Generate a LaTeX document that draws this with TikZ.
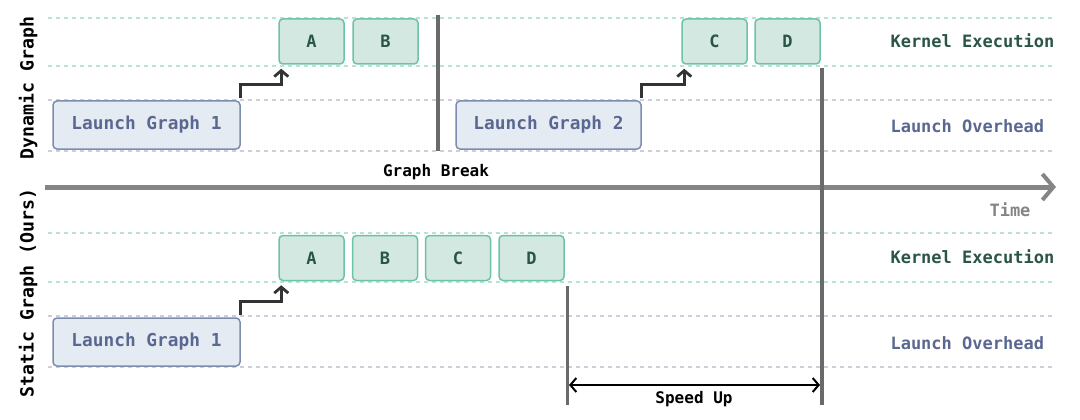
\documentclass[tikz,border=0pt]{standalone}
\usepackage{fontspec}
\setmonofont{DejaVu Sans Mono}
\usetikzlibrary{arrows.meta}
\definecolor{kfill}{HTML}{D3E8E1}
\definecolor{kdraw}{HTML}{6DC3A5}
\definecolor{ktext}{HTML}{2A5546}
\definecolor{lfill}{HTML}{E4EBF3}
\definecolor{ldraw}{HTML}{7D8DAE}
\definecolor{ltext}{HTML}{5A6891}
\definecolor{gdash}{HTML}{B5E3D8}
\definecolor{bdash}{HTML}{CDCDDC}
\definecolor{axisc}{HTML}{858585}
\definecolor{vlinec}{HTML}{6A6A6A}
\definecolor{kickc}{HTML}{333333}
\begin{document}
\begin{tikzpicture}[x=1pt,y=-1pt,
  kbox/.style={draw=kdraw, fill=kfill, line width=1.5pt, rounded corners=4pt,
    minimum width=65pt, minimum height=45pt, inner sep=0pt, text=ktext,
    font=\ttfamily\bfseries\fontsize{17}{20}\selectfont},
  lbox/.style={draw=ldraw, fill=lfill, line width=1.5pt, rounded corners=4pt,
    minimum height=48pt, inner sep=0pt, text=ltext,
    font=\ttfamily\bfseries\fontsize{17.8}{21}\selectfont},
  gline/.style={draw=gdash, line width=1.5pt, dash pattern=on 4pt off 4pt},
  bline/.style={draw=bdash, line width=1.5pt, dash pattern=on 4pt off 4pt},
  kick/.style={draw=kickc, line width=2.8pt,
    -{Straight Barb[length=6pt,width=14pt,line width=2.8pt]}},
  vbar/.style={draw=vlinec, line width=4pt},
  lanelabel/.style={anchor=west, font=\ttfamily\bfseries\fontsize{17}{20}\selectfont},
  sidelabel/.style={rotate=90, font=\ttfamily\bfseries\fontsize{18.2}{21}\selectfont, text=black},
  plain/.style={font=\ttfamily\bfseries\fontsize{16}{19}\selectfont, text=black}
]
\useasboundingbox (0,0) rectangle (1080,420);

% dashed lane lines
\draw[gline] (48,18) -- (1055,18);
\draw[gline] (48,66) -- (1055,66);
\draw[bline] (48,100) -- (1055,100);
\draw[bline] (48,151) -- (1055,151);
\draw[gline] (48,233) -- (1055,233);
\draw[gline] (48,282) -- (1055,282);
\draw[bline] (48,316) -- (1055,316);
\draw[bline] (48,367) -- (1055,367);

% side labels
\node[sidelabel] (dyn) at (28,88) {Dynamic Graph};
\node[sidelabel] (sta) at (28,293) {Static Graph (Ours)};

% top: dynamic graph
\node[lbox, minimum width=187pt] (lg1) at (146.5,125) {Launch Graph 1};
\node[kbox] (a1) at (311.5,41.5) {A};
\node[kbox] (b1) at (385.5,41.5) {B};
\node[lbox, minimum width=185pt] (lg2) at (548.5,125) {Launch Graph 2};
\node[kbox] (c1) at (714.5,41.5) {C};
\node[kbox] (d1) at (787.5,41.5) {D};

\draw[kick] ([yshift=2pt]lg1.north east) -- ++(0,-14) -| ([xshift=3pt,yshift=-4pt]a1.south west);
\draw[kick] ([yshift=2pt]lg2.north east) -- ++(0,-14) -| ([xshift=3pt,yshift=-4pt]c1.south west);

% graph break
\coordinate (gbt) at (438,15);
\coordinate (gbb) at (438,151);
\draw[vbar] (gbt) -- (gbb);
\node[plain] (gb) at (436,172) {Graph Break};

% time axis
\coordinate (t0) at (45,187);
\coordinate (t1) at (1056,187);
\draw[draw=axisc, line width=5pt, -{Straight Barb[length=11pt,width=26pt,line width=4pt]}] (t0) -- (t1);
\node[font=\ttfamily\bfseries\fontsize{17}{20}\selectfont, text=axisc] (time) at (1010,210) {Time};

% lane labels
\node[lanelabel, text=ktext] (ke1) at (887,41) {Kernel Execution};
\node[lanelabel, text=ltext] (lo1) at (887,126) {Launch Overhead};
\node[lanelabel, text=ktext] (ke2) at (887,257) {Kernel Execution};
\node[lanelabel, text=ltext] (lo2) at (887,343) {Launch Overhead};

% bottom: static graph
\node[lbox, minimum width=187pt] (lg3) at (146.5,342) {Launch Graph 1};
\node[kbox] (a2) at (311.5,258) {A};
\node[kbox] (b2) at (385,258) {B};
\node[kbox] (c2) at (458,258) {C};
\node[kbox] (d2) at (531.5,258) {D};
\draw[kick] ([yshift=2pt]lg3.north east) -- ++(0,-14) -| ([xshift=3pt,yshift=-4pt]a2.south west);

% end markers
\coordinate (e1t) at (822,68);
\coordinate (e1b) at (822,405);
\draw[vbar] (e1t) -- (e1b);
\coordinate (e2t) at (567,286);
\coordinate (e2b) at (567,405);
\draw[draw=vlinec, line width=3pt] (e2t) -- (e2b);

% speed up
\coordinate (s1) at (569,385);
\coordinate (s2) at (820,385);
\draw[draw=black, line width=2pt, {Straight Barb[length=6pt,width=14pt,line width=2pt]}-{Straight Barb[length=6pt,width=14pt,line width=2pt]}] (s1) -- (s2);
\node[plain] (su) at (694,399) {Speed Up};
\end{tikzpicture}
\end{document}
